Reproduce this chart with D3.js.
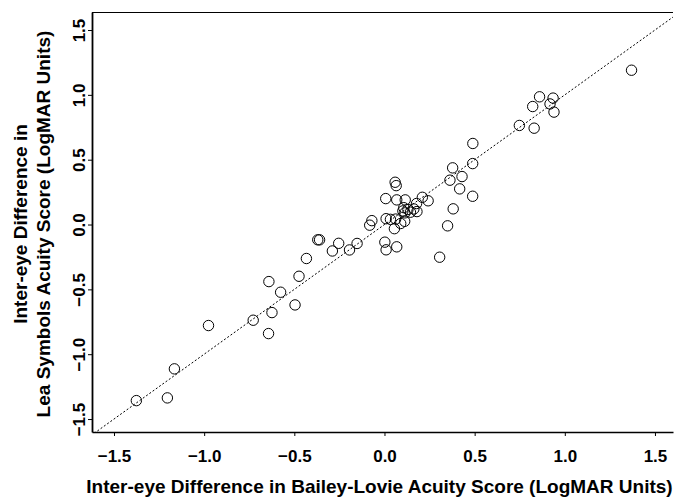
<!DOCTYPE html>
<html>
<head>
<meta charset="utf-8">
<script src="https://cdn.jsdelivr.net/npm/d3@7"></script>
<style>
  body { margin: 0; background: #fff; }
  svg text { font-family: "Liberation Sans", Arial, sans-serif; font-weight: bold; fill: #000; }
</style>
</head>
<body>
<div id="chart"></div>
<script>
// Inter-eye differences (LogMAR units)
var baileyLovie = [1.37, 0.86, 0.935, 0.918, 0.822, 0.94, 0.748, 0.83, 0.49, 0.489,
  0.378, 0.363, 0.43, 0.417, 0.489, 0.381, 0.35, 0.306,
  0.059, 0.065, 0.007, 0.068, 0.115, 0.21, 0.242, 0.178, 0.107, 0.163, 0.102, 0.18,
  0.13, 0.113, 0.144, 0.009, 0.033, 0.062, 0.112, 0.09, 0.055, -0.07, -0.082,
  0.002, 0.009, 0.068,
  -0.37, -0.36, -0.254, -0.152, -0.289, -0.194, -0.433, -0.474, -0.641, -0.576,
  -0.496, -0.624, -0.643, -0.728, -0.976, -1.165, -1.204, -1.376];
var leaSymbols = [1.19, 0.985, 0.975, 0.93, 0.91, 0.867, 0.764, 0.743, 0.625, 0.47,
  0.437, 0.342, 0.37, 0.275, 0.218, 0.121, -0.01, -0.252,
  0.326, 0.30, 0.20, 0.19, 0.19, 0.21, 0.183, 0.162, 0.13, 0.12, 0.105, 0.10,
  0.116, 0.09, 0.095, 0.045, 0.04, 0.042, 0.025, 0.008, -0.032, 0.03, -0.005,
  -0.136, -0.195, -0.172,
  -0.118, -0.118, -0.145, -0.146, -0.204, -0.196, -0.262, -0.399, -0.44, -0.522,
  -0.62, -0.679, -0.841, -0.738, -0.779, -1.113, -1.337, -1.358];
var tickValues = [-1.5, -1.0, -0.5, 0.0, 0.5, 1.0, 1.5];

var width = 674, height = 498;
// plot box (don't call it "top", that's window.top)
var boxLeft = 92, boxRight = 673, boxTop = 12, boxBottom = 432;

var svg = d3.select('#chart').append('svg')
  .attr('width', width)
  .attr('height', height);

// scales
var x = d3.scaleLinear().domain([-1.622, 1.6]).range([boxLeft, boxRight]);
var y = d3.scaleLinear().domain([-1.6, 1.639]).range([boxBottom, boxTop]);

var fmt = d3.format('.1f');

// clip for the reference line
svg.append('clipPath').attr('id', 'plotclip')
  .append('rect')
  .attr('x', boxLeft).attr('y', boxTop)
  .attr('width', boxRight - boxLeft).attr('height', boxBottom - boxTop);

// y = x line
var lineEnds = [-1.7, 1.7];
svg.append('line')
  .attr('clip-path', 'url(#plotclip)')
  .attr('x1', x(lineEnds[0])).attr('y1', y(lineEnds[0]))
  .attr('x2', x(lineEnds[1])).attr('y2', y(lineEnds[1]))
  .attr('stroke', '#000')
  .attr('stroke-width', 1)
  .attr('stroke-dasharray', '2,2');

// points
svg.selectAll('circle.pt')
  .data(baileyLovie.map(function (d, i) { return [d, leaSymbols[i]]; }))
  .enter()
  .append('circle')
  .attr('class', 'pt')
  .attr('cx', function (d) { return x(d[0]); })
  .attr('cy', function (d) { return y(d[1]); })
  .attr('r', 5.2)
  .attr('fill', 'none')
  .attr('stroke', '#000')
  .attr('stroke-width', 1);

// top border
svg.append('line')
  .attr('x1', boxLeft).attr('x2', boxRight)
  .attr('y1', boxTop + 0.5).attr('y2', boxTop + 0.5)
  .attr('stroke', '#000').attr('stroke-width', 1);

// x axis
var xAxis = svg.append('g')
  .attr('transform', 'translate(0,' + boxBottom + ')')
  .call(d3.axisBottom(x).tickValues(tickValues).tickFormat(fmt).tickSize(4).tickSizeOuter(0));
xAxis.select('.domain').attr('stroke-width', 1.6);
xAxis.selectAll('text')
  .attr('y', 0).attr('dy', '1.75em')
  .style('font-size', '17px')
  .style('font-family', '"Liberation Sans", Arial, sans-serif')
  .style('font-weight', 'bold');

// y axis, labels turned sideways
var yAxis = svg.append('g')
  .attr('transform', 'translate(' + boxLeft + ',0)')
  .call(d3.axisLeft(y).tickValues(tickValues).tickFormat(fmt).tickSize(4).tickSizeOuter(0));
yAxis.select('.domain').attr('stroke-width', 1.8);
yAxis.selectAll('text')
  .attr('x', 0).attr('y', -7).attr('dy', 0)
  .attr('text-anchor', 'middle')
  .attr('transform', 'rotate(-90)')
  .style('font-size', '17px')
  .style('font-family', '"Liberation Sans", Arial, sans-serif')
  .style('font-weight', 'bold');

// axis titles
svg.append('text')
  .attr('x', (boxLeft + boxRight) / 2 - 3)
  .attr('y', 493)
  .attr('text-anchor', 'middle')
  .style('font-size', '19px')
  .text('Inter-eye Difference in Bailey-Lovie Acuity Score (LogMAR Units)');

var yTitle = svg.append('text')
  .attr('transform', 'translate(0,224) rotate(-90)')
  .attr('text-anchor', 'middle')
  .style('font-size', '19px');
yTitle.append('tspan').attr('x', 0).attr('y', 27).text('Inter-eye Difference in');
yTitle.append('tspan').attr('x', 0).attr('y', 50).text('Lea Symbols Acuity Score (LogMAR Units)');
</script>
</body>
</html>
